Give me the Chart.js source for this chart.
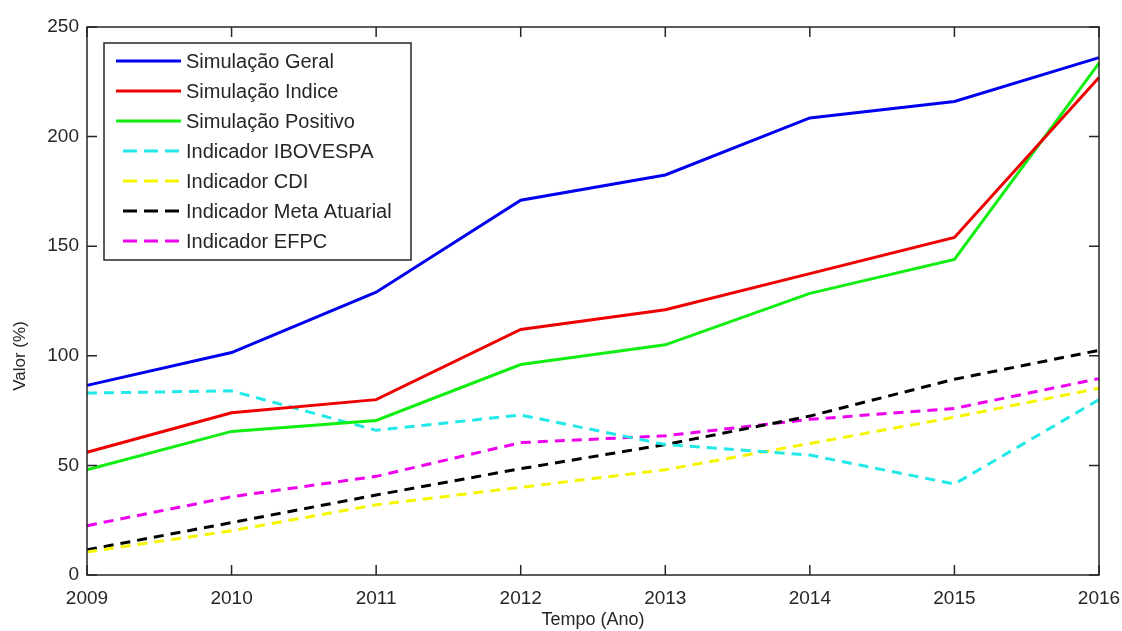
<!DOCTYPE html>
<html>
<head>
<meta charset="utf-8">
<script src="https://cdn.jsdelivr.net/npm/chart.js@4/dist/chart.umd.min.js"></script>
<style>
html,body{margin:0;padding:0;background:#fff;}
#wrap{width:1122px;height:631px;position:relative;}
</style>
</head>
<body>
<div id="wrap"><canvas id="c" width="1122" height="631"></canvas></div>
<script>
const years = ['2009','2010','2011','2012','2013','2014','2015','2016'];
const yTicks = [0,50,100,150,200,250];
const simGeral    = [86.5, 101.5, 129, 171, 182.5, 208.5, 216, 236];
const simIndice   = [56, 74, 80, 112, 121, 137.5, 154, 227];
const simPositivo = [48, 65.5, 70.5, 96, 105, 128.5, 144, 233.5];
const ibovespa    = [83, 84, 66, 73, 59.5, 54.7, 41.5, 80];
const cdi         = [10.5, 20.2, 32, 40, 48, 60, 72, 85.2];
const metaAtuarial= [11.5, 23.9, 36.5, 48.5, 59.5, 72.5, 89.3, 102.5];
const efpc        = [22.5, 35.7, 45, 60.4, 63.5, 71, 76, 89.6];
const seriesNames = ['Simulação Geral','Simulação Indice','Simulação Positivo','Indicador IBOVESPA','Indicador CDI','Indicador Meta Atuarial','Indicador EFPC'];

const FONT = 'Liberation Sans, Arial, sans-serif';
const TXT = '#262626';

function ds(label, data, color, dashed){
  return {label, data, borderColor: color, backgroundColor: color,
    borderWidth: 3, borderDash: dashed ? [10,7] : [], pointRadius: 0,
    tension: 0, fill: false};
}

const frameTicks = {
  id:'frameTicks',
  afterDraw(chart){
    const {ctx, chartArea:a, scales} = chart;
    ctx.save();
    ctx.strokeStyle = TXT; ctx.lineWidth = 1.5;
    ctx.strokeRect(a.left, a.top, a.right-a.left, a.bottom-a.top);
    ctx.beginPath();
    const L = 10;
    scales.x.ticks.forEach((t,i)=>{
      const x = scales.x.getPixelForTick(i);
      ctx.moveTo(x, a.bottom); ctx.lineTo(x, a.bottom-L);
      ctx.moveTo(x, a.top); ctx.lineTo(x, a.top+L);
    });
    scales.y.ticks.forEach((t)=>{
      const y = scales.y.getPixelForValue(t.value);
      ctx.moveTo(a.left, y); ctx.lineTo(a.left+L, y);
      ctx.moveTo(a.right, y); ctx.lineTo(a.right-L, y);
    });
    ctx.stroke();
    // y axis title
    ctx.fillStyle = TXT;
    ctx.font = '17px ' + FONT;
    ctx.translate(20, 356);
    ctx.rotate(-Math.PI/2);
    ctx.textAlign = 'center';
    ctx.textBaseline = 'middle';
    ctx.fillText('Valor (%)', 0, 0);
    ctx.restore();
  }
};

const insideLegend = {
  id:'insideLegend',
  afterDatasetsDraw(chart){
    const {ctx} = chart;
    const bx = 104, by = 43, bw = 307, bh = 217;
    ctx.save();
    ctx.fillStyle = '#fff';
    ctx.fillRect(bx, by, bw, bh);
    ctx.strokeStyle = TXT; ctx.lineWidth = 1.5;
    ctx.strokeRect(bx, by, bw, bh);
    ctx.font = '20px ' + FONT;
    ctx.textBaseline = 'middle';
    chart.data.datasets.forEach((d,i)=>{
      const y = 61 + i*30;
      const dashed = d.borderDash && d.borderDash.length;
      ctx.strokeStyle = d.borderColor;
      ctx.lineWidth = 3;
      ctx.setLineDash(dashed ? [14,7] : []);
      ctx.beginPath();
      const x0 = dashed ? 123 : 116;
      ctx.moveTo(x0, y); ctx.lineTo(181, y); ctx.stroke();
      ctx.setLineDash([]);
      ctx.fillStyle = TXT;
      ctx.fillText(d.label, 186, y+1);
    });
    ctx.restore();
  }
};

new Chart(document.getElementById('c'), {
  type:'line',
  data:{
    labels: years,
    datasets:[
      ds(seriesNames[0], simGeral, '#0000ee', false),
      ds(seriesNames[1], simIndice, '#ee0000', false),
      ds(seriesNames[2], simPositivo, '#11ee11', false),
      ds(seriesNames[3], ibovespa, '#22e8e8', true),
      ds(seriesNames[4], cdi, '#f5f500', true),
      ds(seriesNames[5], metaAtuarial, '#000000', true),
      ds(seriesNames[6], efpc, '#ee00ee', true)
    ]
  },
  options:{
    responsive:false, animation:false,
    devicePixelRatio:1,
    layout:{padding:{left:0, top:27, right:23, bottom:0}},
    plugins:{legend:{display:false}, tooltip:{enabled:false}},
    scales:{
      x:{
        type:'category', offset:false,
        grid:{display:false, drawTicks:false},
        border:{display:false},
        ticks:{color:TXT, font:{family:FONT, size:19}, padding:12, maxRotation:0, autoSkip:false},
        title:{display:true, text:'Tempo (Ano)', color:TXT, font:{family:FONT, size:18}, padding:{top:0,bottom:0}},
        afterFit(s){ s.height = 56; s.paddingLeft = 0; s.paddingRight = 0; }
      },
      y:{
        min:0, max:250,
        afterBuildTicks(s){ s.ticks = yTicks.map(v=>({value:v})); },
        grid:{display:false, drawTicks:false},
        border:{display:false},
        ticks:{color:TXT, font:{family:FONT, size:19}, padding:8},
        afterFit(s){ s.width = 87; s.paddingTop = 0; s.paddingBottom = 0; }
      }
    }
  },
  plugins:[insideLegend, frameTicks]
});
</script>
</body>
</html>
